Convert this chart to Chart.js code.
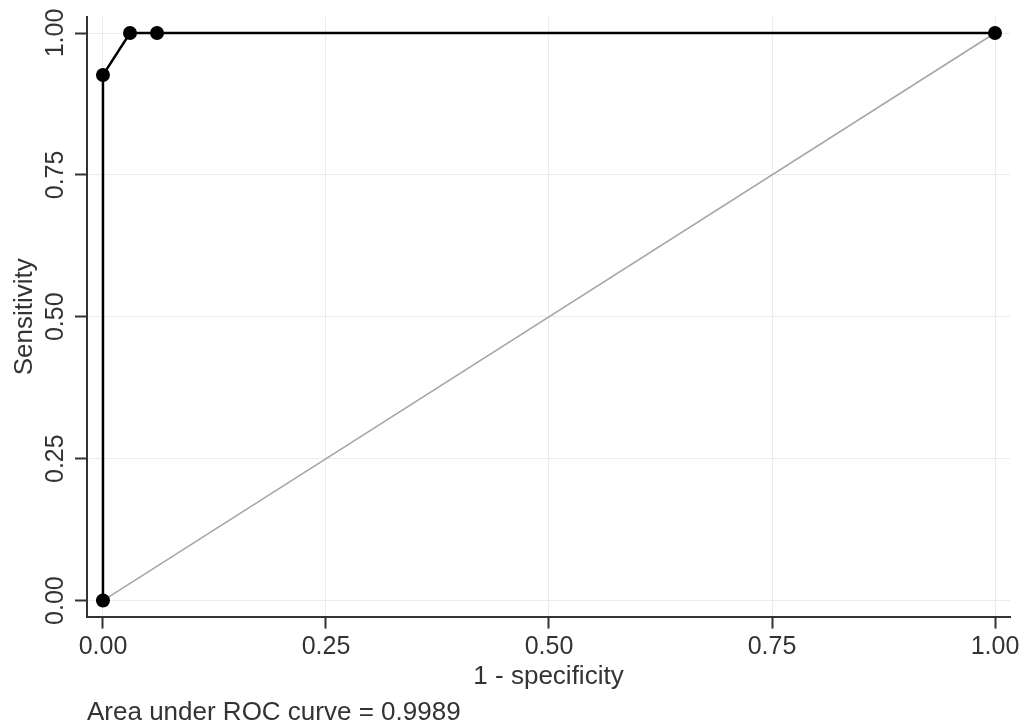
<!DOCTYPE html>
<html>
<head>
<meta charset="utf-8">
<script src="https://cdn.jsdelivr.net/npm/chart.js@4.4.1/dist/chart.umd.min.js"></script>
<style>
  html, body { margin: 0; padding: 0; background: #fff; }
  #wrap { width: 1026px; height: 725px; }
</style>
</head>
<body>
<div id="wrap"><canvas id="roc"></canvas></div>
<script>
// ROC curve - sensitivity vs 1 - specificity
const fpr = [0, 0, 0.0303, 0.0606, 1]
const sensitivity = [0, 0.926, 1, 1, 1]
const refX = [0, 1] // reference diagonal
const refY = [0, 1]
const tickValues = [0, 0.25, 0.5, 0.75, 1]
const aucLabel = 'Area under ROC curve = 0.9989'

const ink = '#333333'
const fontFam = '"Liberation Sans", Arial, Helvetica, sans-serif'

const rocPoints = fpr.map((x, i) => ({ x: x, y: sensitivity[i] }))
const refPoints = refX.map((x, i) => ({ x: x, y: refY[i] }))

const useTicks = (scale) => {
  scale.ticks = tickValues.map(v => ({ value: v }))
}

const rctx = document.getElementById('roc').getContext('2d')
const rocChart = new Chart(rctx, {
  type: 'scatter',
  data: {
    datasets: [{
      label: 'ROC',
      data: rocPoints,
      showLine: true,
      borderColor: '#000',
      borderWidth: 2.5,
      pointRadius: 7,
      pointBackgroundColor: '#000',
      pointBorderColor: '#000',
      pointBorderWidth: 0
    }, {
      label: 'Reference',
      data: refPoints,
      showLine: true,
      borderColor: '#a6a6a6',
      borderWidth: 1.5,
      pointRadius: 0
    }]
  },
  options: {
    responsive: true,
    maintainAspectRatio: false,
    animation: false,
    layout: {
      padding: { left: 11.4, right: 16, top: 17, bottom: 0 }
    },
    plugins: {
      legend: { display: false },
      tooltip: { enabled: false },
      title: {
        display: true,
        text: aucLabel,
        position: 'bottom',
        align: 'start',
        fullSize: false,
        color: ink,
        font: { family: fontFam, size: 26, weight: 'normal', lineHeight: 0.9 },
        padding: { top: 15, bottom: 0 }
      }
    },
    scales: {
      x: {
        type: 'linear',
        min: -0.0179,
        max: 1.0168,
        afterBuildTicks: useTicks,
        border: { color: ink, width: 2 },
        grid: { color: '#ececec', lineWidth: 1, tickColor: ink, tickLength: 12, tickWidth: 2 },
        ticks: {
          color: ink,
          padding: 4,
          font: { family: fontFam, size: 25 },
          maxRotation: 0,
          callback: v => v.toFixed(2)
        },
        title: {
          display: true,
          text: '1 - specificity',
          color: ink,
          font: { family: fontFam, size: 26, lineHeight: 0.77 },
          padding: { top: 0, bottom: 0 }
        }
      },
      y: {
        type: 'linear',
        min: -0.0282,
        max: 1.0282,
        afterBuildTicks: useTicks,
        border: { color: ink, width: 2 },
        grid: { color: '#ececec', lineWidth: 1, tickColor: ink, tickLength: 12, tickWidth: 2 },
        ticks: {
          color: ink,
          padding: -5,
          minRotation: 90,
          maxRotation: 90,
          crossAlign: 'center',
          font: { family: fontFam, size: 25 },
          callback: v => v.toFixed(2)
        },
        title: {
          display: true,
          text: 'Sensitivity',
          color: ink,
          font: { family: fontFam, size: 26, lineHeight: 1.0 },
          padding: { top: 0, bottom: 17.6 }
        }
      }
    }
  }
})
</script>
</body>
</html>
